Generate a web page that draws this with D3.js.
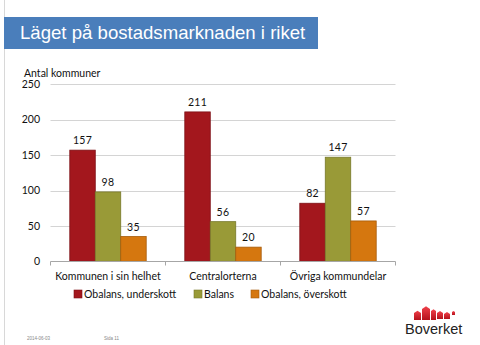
<!DOCTYPE html>
<html>
<head>
<meta charset="utf-8">
<script src="https://cdn.jsdelivr.net/npm/d3@7"></script>
<style>
  body { margin: 0; background: #fff; }
  svg { display: block; }
  .tick-label, .cat-label, .legend-label, .value-label { font-family: Lato, "Open Sans", sans-serif; fill: #111; }
</style>
</head>
<body>
<div id="chart"></div>
<script>
const categories = ["Kommunen i sin helhet", "Centralorterna", "Övriga kommundelar"];
const seriesNames = ["Obalans, underskott", "Balans", "Obalans, överskott"];
const underskott = [157, 211, 82];
const balans = [98, 56, 147];
const overskott = [35, 20, 57];
const yTicks = [0, 50, 100, 150, 200, 250];

const seriesFill = ["#A3171D", "#999A37", "#D5770F"];
const seriesStroke = ["#7d1015", "#77782a", "#a65b0a"];

const W = 480, H = 345;
const plot = {left: 50.5, right: 395.5, top: 84.3, bottom: 261.3};

const svg = d3.select("#chart").append("svg")
    .attr("width", W).attr("height", H);

// slide frame line on the left
svg.append("line").attr("x1", 4.5).attr("x2", 4.5).attr("y1", 0).attr("y2", H)
    .attr("stroke", "#d8d8d8").attr("stroke-width", 1);

// title banner
svg.append("rect").attr("x", 4).attr("y", 17).attr("width", 314).attr("height", 32)
    .attr("fill", "#4A7EBB");
svg.append("text").attr("x", 20).attr("y", 38.5)
    .style("font-family", "'Liberation Sans', Arial, sans-serif")
    .style("font-size", "18.6px").attr("fill", "#fff")
    .text("Läget på bostadsmarknaden i riket");

svg.append("text").attr("x", 24).attr("y", 77)
    .attr("class", "tick-label").style("font-size", "10.5px")
    .text("Antal kommuner");

const y = d3.scaleLinear().domain([0, 250]).range([plot.bottom, plot.top]);
const x0 = d3.scaleBand().domain(categories).range([plot.left, plot.right]);
const x1 = d3.scaleBand().domain(seriesNames).range([19.3, x0.bandwidth() - 19.3]);

// gridlines
svg.append("g").selectAll("line").data(yTicks.filter(t => t > 0)).enter().append("line")
    .attr("x1", plot.left).attr("x2", plot.right)
    .attr("y1", d => Math.round(y(d)) + 0.5).attr("y2", d => Math.round(y(d)) + 0.5)
    .attr("stroke", "#d4d4d4");

// y tick labels
svg.append("g").selectAll("text").data(yTicks).enter().append("text")
    .attr("class", "tick-label")
    .attr("x", 40).attr("y", d => y(d)).attr("dy", "0.35em")
    .attr("text-anchor", "end").style("font-size", "10.5px")
    .text(d => d);

// bars
const rows = categories.map((c, i) => ({cat: c, vals: [underskott[i], balans[i], overskott[i]]}));
const groups = svg.append("g").selectAll("g").data(rows).enter().append("g")
    .attr("transform", d => `translate(${x0(d.cat)},0)`);

groups.selectAll("rect").data(d => d.vals.map((v, j) => ({s: seriesNames[j], j, v}))).enter()
    .append("rect")
    .attr("x", d => x1(d.s)).attr("width", x1.bandwidth())
    .attr("y", d => y(d.v)).attr("height", d => y(0) - y(d.v))
    .attr("fill", d => seriesFill[d.j]).attr("stroke", d => seriesStroke[d.j]).attr("stroke-width", 0.8);

groups.selectAll("text").data(d => d.vals.map((v, j) => ({s: seriesNames[j], j, v}))).enter()
    .append("text").attr("class", "value-label")
    .attr("x", d => x1(d.s) + x1.bandwidth() / 2).attr("y", d => y(d.v) - 6)
    .attr("text-anchor", "middle").style("font-size", "10.5px").style("letter-spacing", "0.3px")
    .text(d => d.v);

// x axis
const xAxis = svg.append("g").attr("transform", `translate(0,${Math.round(plot.bottom) + 0.5})`);
xAxis.append("line").attr("x1", plot.left).attr("x2", plot.right).attr("stroke", "#a6a6a6");
xAxis.selectAll(".tk").data(d3.range(categories.length + 1)).enter().append("line")
    .attr("x1", i => i < categories.length ? x0(categories[i]) : plot.right)
    .attr("x2", i => i < categories.length ? x0(categories[i]) : plot.right)
    .attr("y1", 0).attr("y2", 4).attr("stroke", "#a6a6a6");
xAxis.selectAll(".cat-label").data(categories).enter().append("text")
    .attr("class", "cat-label")
    .attr("x", d => x0(d) + x0.bandwidth() / 2).attr("y", 18)
    .attr("text-anchor", "middle").style("font-size", "10.5px")
    .text(d => d);

// legend
const legendX = [74, 194, 251];
const legend = svg.append("g").attr("transform", "translate(0,294)");
const li = legend.selectAll("g").data(seriesNames).enter().append("g")
    .attr("transform", (d, i) => `translate(${legendX[i]},0)`);
li.append("rect").attr("x", 0).attr("y", -4).attr("width", 8).attr("height", 8)
    .attr("fill", (d, i) => seriesFill[i]).attr("stroke", (d, i) => seriesStroke[i]).attr("stroke-width", 0.6);
li.append("text").attr("class", "legend-label").attr("x", 10).attr("y", 0).attr("dy", "0.35em")
    .style("font-size", "10.5px").text(d => d);

// footer
svg.append("text").attr("x", 27).attr("y", 340).style("font-family", "'Liberation Sans', sans-serif")
    .style("font-size", "4.5px").attr("fill", "#888").text("2014-06-03");
svg.append("text").attr("x", 104).attr("y", 340).style("font-family", "'Liberation Sans', sans-serif")
    .style("font-size", "4.5px").attr("fill", "#888").text("Sida 11");

// Boverket logo
const logo = svg.append("g").attr("transform", "translate(405,300)");
const grad = svg.append("defs").append("linearGradient").attr("id", "houseGrad")
    .attr("x1", 0).attr("x2", 0).attr("y1", 0).attr("y2", 1);
grad.append("stop").attr("offset", "0%").attr("stop-color", "#f0404a");
grad.append("stop").attr("offset", "100%").attr("stop-color", "#b5121b");
const houses = [
  [9, 13, 7, 7], [17, 9, 8, 11], [26, 11, 5, 9], [32, 13, 6, 6], [39, 14, 6, 5], [47, 12, 3, 3]
];
houses.forEach(([hx, hy, hw, hh]) => {
  logo.append("path")
    .attr("d", `M${hx},${hy + hh} L${hx},${hy} L${hx + hw / 2},${hy - hw / 3} L${hx + hw},${hy} L${hx + hw},${hy + hh} Z`)
    .attr("fill", "url(#houseGrad)");
});
logo.append("text").attr("x", 0).attr("y", 33.5)
    .style("font-family", "'Liberation Sans', Arial, sans-serif").style("font-size", "14.5px")
    .attr("fill", "#222").text("Boverket");
</script>
</body>
</html>
